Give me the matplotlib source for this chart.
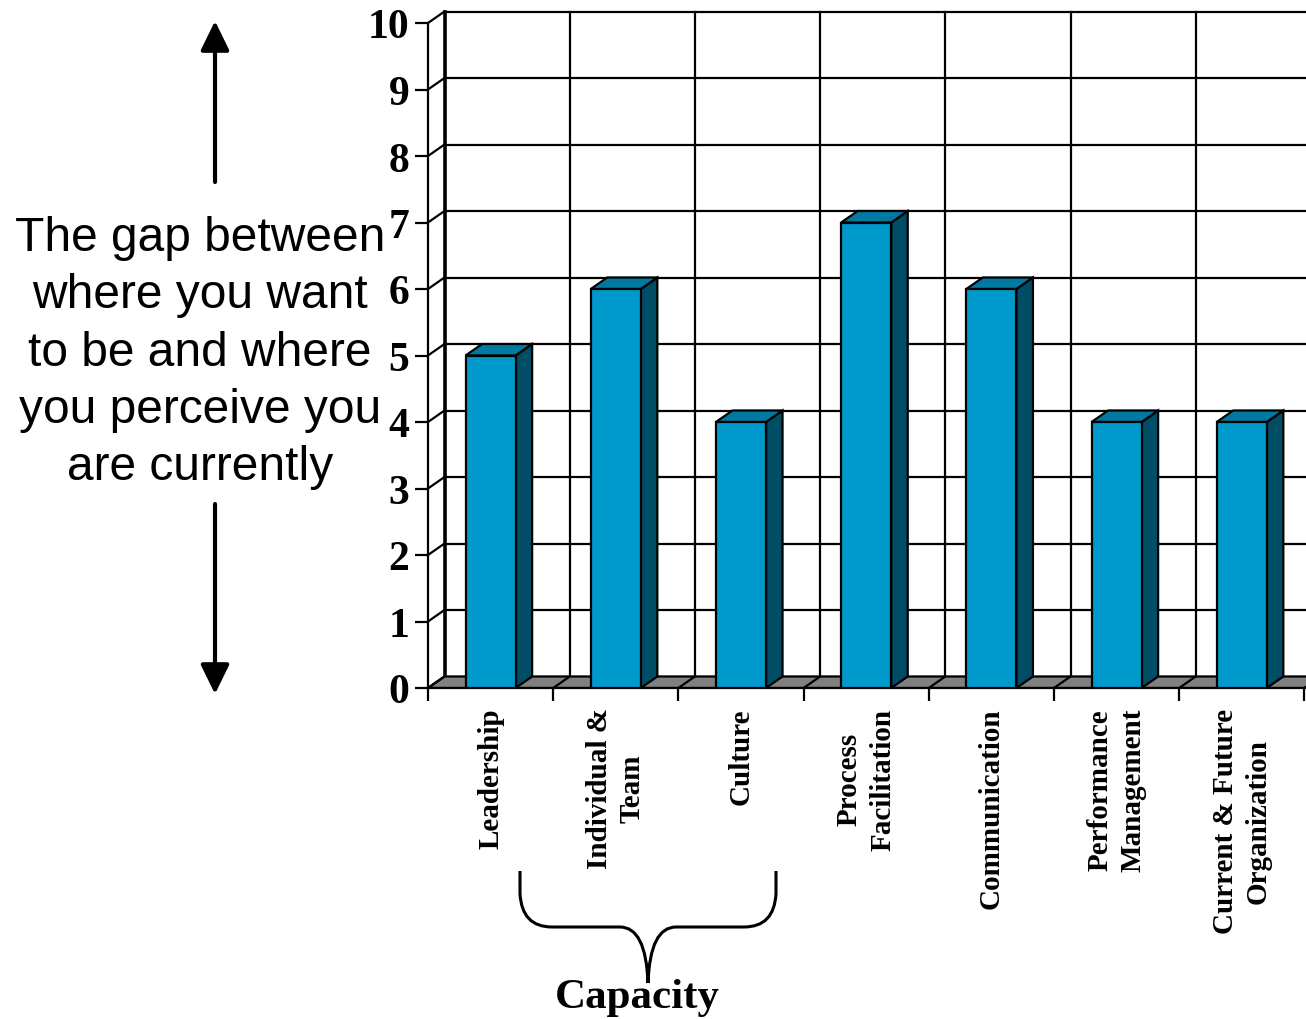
import matplotlib.pyplot as plt
from matplotlib.patches import Polygon, Rectangle, PathPatch
from matplotlib.path import Path

plt.rcParams['font.family'] = 'Liberation Serif'
plt.rcParams['font.weight'] = 'bold'

categories = ['Leadership', 'Individual &\nTeam', 'Culture', 'Process\nFacilitation',
              'Communication', 'Performance\nManagement', 'Current & Future\nOrganization']
gap_scores = [5, 6, 4, 7, 6, 4, 4]
y_ticks = list(range(0, 11))
side_note = ('The gap between\nwhere you want\nto be and where\n'
             'you perceive you\nare currently')
group_label = 'Capacity'

front_col = '#0099CC'
side_col = '#004D66'
top_col = '#007AA3'
floor_col = '#808080'

W, H = 1306, 1020
fig = plt.figure(figsize=(W / 100, H / 100), dpi=100)


def fpx(x, y):
    # pixel position measured from the top-left -> figure fraction
    return x / W, 1 - y / H


# plot box laid out in pixels
x0_px, base_px = 428, 689
cat_px, unit_px = 125.2, 66.5
ax = fig.add_axes([x0_px / W, (H - base_px) / H, (W - x0_px) / W, (base_px - 4) / H])
xmax = (W - x0_px) / cat_px
ax.set_xlim(0, xmax)
ax.set_ylim(0, (base_px - 4) / unit_px)
ax.patch.set_alpha(0)

# depth offset of the pseudo-3d box, in data units
dx = 16.5 / cat_px
dy = 11.5 / unit_px
ymax = max(y_ticks)
lw = 1.6

# back wall grid
for v in y_ticks:
    ax.plot([dx, xmax + 1], [v + dy, v + dy], color='black', lw=lw, zorder=1)
    ax.plot([0, dx], [v, v + dy], color='black', lw=lw, zorder=1)
for i in range(len(categories) + 1):
    ax.plot([i + dx, i + dx], [dy, ymax + dy], color='black',
            lw=2.6 if i == 0 else lw, zorder=1)

# floor
ax.add_patch(Polygon([(0, 0), (xmax + 1, 0), (xmax + 1 + dx, dy), (dx, dy)],
                     closed=True, facecolor=floor_col, edgecolor='black', lw=lw, zorder=1.5))
for i in range(len(categories) + 1):
    ax.plot([i, i + dx], [0, dy], color='black', lw=lw, zorder=1.6)

# bars
bw = 0.4
for i, v in enumerate(gap_scores):
    left = i + 0.5 - bw / 2
    right = left + bw
    ax.add_patch(Polygon([(right, 0), (right + dx, dy), (right + dx, v + dy), (right, v)],
                         closed=True, facecolor=side_col, edgecolor='black', lw=lw, zorder=3))
    ax.add_patch(Polygon([(left, v), (right, v), (right + dx, v + dy), (left + dx, v + dy)],
                         closed=True, facecolor=top_col, edgecolor='black', lw=lw, zorder=3))
    ax.add_patch(Rectangle((left, 0), bw, v, facecolor=front_col,
                           edgecolor='black', lw=lw, zorder=3.1))

# axes, ticks and labels
for s in ['top', 'right']:
    ax.spines[s].set_visible(False)
ax.spines['left'].set_bounds(0, ymax)
ax.spines['left'].set_linewidth(lw)
ax.spines['bottom'].set_linewidth(lw)
ax.spines['bottom'].set_zorder(2)

ax.set_yticks(y_ticks)
ax.tick_params(axis='y', direction='out', length=9.5, width=lw, pad=4, labelsize=30)

ax.set_xticks(range(len(categories) + 1))
ax.set_xticklabels([])
ax.tick_params(axis='x', which='major', direction='out', length=9.5, width=lw)
ax.set_xticks([i + 0.5 for i in range(len(categories))], minor=True)
ax.set_xticklabels(categories, minor=True, rotation=90, va='top', ha='center',
                   fontsize=21, linespacing=1.3)
ax.tick_params(axis='x', which='minor', length=0, pad=14)

# left-hand note with arrows
fig.text(*fpx(200, 353), side_note, ha='center', va='center', fontsize=34.5,
         family='Liberation Sans', fontweight='normal', linespacing=1.35)
arrow = dict(arrowstyle='-|>,head_length=0.45,head_width=0.22', lw=3,
             color='black', mutation_scale=40, shrinkA=0, shrinkB=0)
ax.annotate('', xy=(215, H - 22), xytext=(215, H - 183),
            xycoords='figure pixels', textcoords='figure pixels', arrowprops=arrow)
ax.annotate('', xy=(215, H - 695), xytext=(215, H - 505),
            xycoords='figure pixels', textcoords='figure pixels', arrowprops=arrow)

# brace grouping the first three categories
verts = [(520, 872), (520, 895), (522, 928), (552, 928), (620, 928), (646, 928), (648, 984),
         (776, 872), (776, 895), (774, 928), (744, 928), (676, 928), (650, 928), (648, 984)]
codes = [Path.MOVETO, Path.LINETO, Path.CURVE3, Path.CURVE3, Path.LINETO, Path.CURVE3, Path.CURVE3] * 2
brace = PathPatch(Path([fpx(x, y) for x, y in verts], codes), transform=fig.transFigure,
                  facecolor='none', edgecolor='black', lw=2.2)
fig.add_artist(brace)
fig.text(*fpx(637, 998), group_label, ha='center', va='center', fontsize=31)

fig.savefig('out.png', dpi=100)
